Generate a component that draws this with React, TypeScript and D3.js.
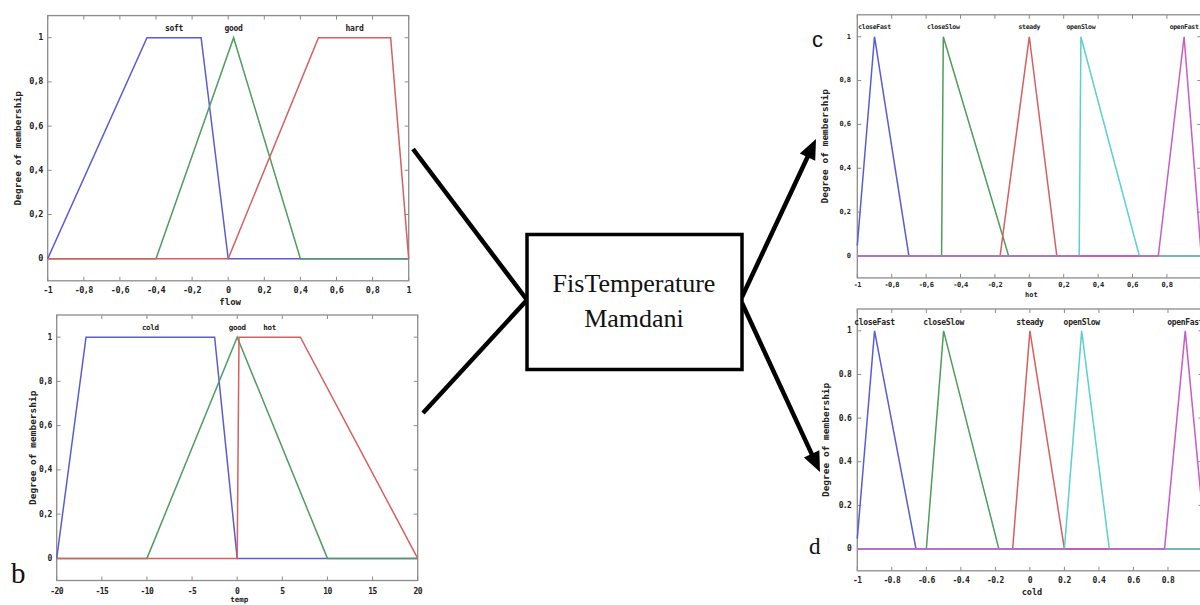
import React from "react";
import * as d3 from "d3";

// ---------- data ----------
const unitYTicks = [0, 0.2, 0.4, 0.6, 0.8, 1];

const flowNames = ["soft", "good", "hard"];
const flowParams = [
  [-1, -0.45, -0.15, 0],
  [-0.4, 0.03, 0.4],
  [0, 0.5, 0.9, 1],
];
const flowXTicks = [-1, -0.8, -0.6, -0.4, -0.2, 0, 0.2, 0.4, 0.6, 0.8, 1];

const tempNames = ["cold", "good", "hot"];
const tempParams = [
  [-20, -16.75, -2.5, 0],
  [-10, 0, 10],
  [0, 0.2, 7, 20],
];
const tempXTicks = [-20, -15, -10, -5, 0, 5, 10, 15, 20];

const valveNames = ["closeFast", "closeSlow", "steady", "openSlow", "openFast"];
const hotParams = [
  [-1.005, -0.9, -0.7],
  [-0.51, -0.5, -0.12],
  [-0.17, 0, 0.16],
  [0.29, 0.3, 0.64],
  [0.75, 0.9, 1.0],
];
const coldParams = [
  [-1.005, -0.9, -0.66],
  [-0.6, -0.5, -0.18],
  [-0.1, 0, 0.2],
  [0.2, 0.3, 0.46],
  [0.78, 0.9, 1.02],
];
const valveXTicks = [-1, -0.8, -0.6, -0.4, -0.2, 0, 0.2, 0.4, 0.6, 0.8, 1];

const COLORS = ["#5b5bd6", "#4f9c5f", "#d85f5f", "#5ccfcf", "#c85cc8"];
const FRAME = "#8c8c8c";
const MONO = "'DejaVu Sans Mono', monospace";

// ---------- helpers ----------
function mu(p: number[], x: number): number {
  if (p.length === 3) {
    const [a, b, c] = p;
    if (x === b) return 1;
    if (x <= a || x >= c) return 0;
    return x < b ? (x - a) / (b - a) : (c - x) / (c - b);
  }
  const [a, b, c, d] = p;
  if (x >= b && x <= c) return 1;
  if (x <= a || x >= d) return 0;
  return x < b ? (x - a) / (b - a) : (d - x) / (d - c);
}

function mfPoints(p: number[], lo: number, hi: number): [number, number][] {
  const xs = Array.from(new Set([lo, hi, ...p.filter((v) => v > lo && v < hi)])).sort((a, b) => a - b);
  return xs.map((v) => [v, mu(p, v)]);
}

function peakX(p: number[]) {
  return p.length === 3 ? p[1] : (p[1] + p[2]) / 2;
}

type Cfg = {
  left: number; right: number; top: number; bottom: number;
  xDomain: [number, number]; xTicks: number[]; sep: string;
  names: string[]; params: number[][];
  xLabel: string;
  tickFont: number; mfFont: number; labelFont: number; xLabelFont: number;
  yTickDx: number; xTickDy: number; xLabelDy: number; yLabelX: number; mfDy: number;
};

function Panel({ cfg }: { cfg: Cfg }) {
  const x = d3.scaleLinear().domain(cfg.xDomain).range([cfg.left, cfg.right]);
  const y = d3.scaleLinear().domain([-0.1, 1.1]).range([cfg.bottom, cfg.top]);
  const line = d3.line<[number, number]>().x((d) => x(d[0])).y((d) => y(d[1]));
  const fmt = (v: number) => {
    const s = d3.format("~g")(v);
    return s.replace("−", "-").replace(".", cfg.sep);
  };
  const tl = 4;
  const midY = (cfg.top + cfg.bottom) / 2;
  return (
    <g>
      <rect x={cfg.left} y={cfg.top} width={cfg.right - cfg.left} height={cfg.bottom - cfg.top}
        fill="white" stroke={FRAME} strokeWidth={1.3} />
      {cfg.xTicks.map((t) => (
        <g key={"xt" + t}>
          <line x1={x(t)} x2={x(t)} y1={cfg.bottom} y2={cfg.bottom - tl} stroke={FRAME} />
          <line x1={x(t)} x2={x(t)} y1={cfg.top} y2={cfg.top + tl} stroke={FRAME} />
          <text x={x(t)} y={cfg.bottom + cfg.xTickDy} fontFamily={MONO} fontSize={cfg.tickFont}
            fontWeight="bold" textAnchor="middle" dominantBaseline="middle" fill="#222" letterSpacing={-0.6}>
            {fmt(t)}
          </text>
        </g>
      ))}
      {unitYTicks.map((t) => (
        <g key={"yt" + t}>
          <line x1={cfg.left} x2={cfg.left + tl} y1={y(t)} y2={y(t)} stroke={FRAME} />
          <line x1={cfg.right} x2={cfg.right - tl} y1={y(t)} y2={y(t)} stroke={FRAME} />
          <text x={cfg.left + cfg.yTickDx} y={y(t)} fontFamily={MONO} fontSize={cfg.tickFont}
            fontWeight="bold" textAnchor="end" dominantBaseline="middle" fill="#222" letterSpacing={-0.6}>
            {fmt(t)}
          </text>
        </g>
      ))}
      {cfg.params.map((p, i) => (
        <path key={"mf" + i} d={line(mfPoints(p, cfg.xDomain[0], cfg.xDomain[1])) || ""}
          fill="none" stroke={COLORS[i]} strokeWidth={1.5} />
      ))}
      {cfg.params.map((p, i) => (
        <text key={"mn" + i} x={x(peakX(p))} y={y(1) + cfg.mfDy} fontFamily={MONO} fontSize={cfg.mfFont}
          fontWeight="bold" textAnchor="middle" dominantBaseline="middle" fill="#222" letterSpacing={-0.3}>
          {cfg.names[i]}
        </text>
      ))}
      <text x={x((cfg.xDomain[0] + cfg.xDomain[1]) / 2) + 2} y={cfg.bottom + cfg.xLabelDy} fontFamily={MONO}
        fontSize={cfg.xLabelFont} fontWeight="bold" textAnchor="middle" dominantBaseline="middle" fill="#222">
        {cfg.xLabel}
      </text>
      <text transform={`translate(${cfg.yLabelX},${midY}) rotate(-90)`} fontFamily={MONO}
        fontSize={cfg.labelFont} fontWeight="bold" textAnchor="middle" dominantBaseline="middle" fill="#222">
        Degree of membership
      </text>
    </g>
  );
}

const panels: Cfg[] = [
  {
    left: 47.7, right: 408.7, top: 15.6, bottom: 280.8, xDomain: [-1, 1], xTicks: flowXTicks, sep: ",",
    names: flowNames, params: flowParams, xLabel: "flow", tickFont: 8.5, mfFont: 8, labelFont: 9.5, xLabelFont: 9,
    yTickDx: -5, xTickDy: 9.5, xLabelDy: 21.5, yLabelX: 18, mfDy: -9.5,
  },
  {
    left: 56.7, right: 417.7, top: 315, bottom: 580.5, xDomain: [-20, 20], xTicks: tempXTicks, sep: ",",
    names: tempNames, params: tempParams, xLabel: "temp", tickFont: 8, mfFont: 7.5, labelFont: 9.5, xLabelFont: 7.5,
    yTickDx: -5, xTickDy: 10.5, xLabelDy: 19.5, yLabelX: 33, mfDy: -9.5,
  },
  {
    left: 857.3, right: 1201.3, top: 14.8, bottom: 277.9, xDomain: [-1, 1], xTicks: valveXTicks, sep: ",",
    names: valveNames, params: hotParams, xLabel: "hot", tickFont: 7, mfFont: 6.5, labelFont: 9.5, xLabelFont: 7,
    yTickDx: -7, xTickDy: 7.5, xLabelDy: 17, yLabelX: 825, mfDy: -10,
  },
  {
    left: 857.3, right: 1202.5, top: 309, bottom: 570.8, xDomain: [-1, 1], xTicks: valveXTicks, sep: ".",
    names: valveNames, params: coldParams, xLabel: "cold", tickFont: 8, mfFont: 8, labelFont: 9.5, xLabelFont: 8.5,
    yTickDx: -6, xTickDy: 10, xLabelDy: 22, yLabelX: 826.7, mfDy: -8,
  },
];

function Arrow({ x1, y1, x2, y2, head }: { x1: number; y1: number; x2: number; y2: number; head: boolean }) {
  const dx = x2 - x1, dy = y2 - y1;
  const len = Math.hypot(dx, dy);
  const ux = dx / len, uy = dy / len;
  const hl = 20, hw = 8.5;
  const ex = head ? x2 - ux * (hl - 2) : x2;
  const ey = head ? y2 - uy * (hl - 2) : y2;
  const bx = x2 - ux * hl, by = y2 - uy * hl;
  const pts = [
    [x2, y2],
    [bx - uy * hw, by + ux * hw],
    [bx + uy * hw, by - ux * hw],
  ];
  return (
    <g>
      <line x1={x1} y1={y1} x2={ex} y2={ey} stroke="black" strokeWidth={4.5} />
      {head && <polygon points={pts.map((p) => p.join(",")).join(" ")} fill="black" />}
    </g>
  );
}

export default function App() {
  return (
    <svg width={1200} height={605} style={{ position: "absolute", left: 0, top: 0, background: "white" }}>
      <rect width={1200} height={605} fill="white" />
      {panels.map((p, i) => (
        <Panel key={i} cfg={p} />
      ))}
      <Arrow x1={413} y1={149} x2={527} y2={300} head={false} />
      <Arrow x1={423} y1={413} x2={527} y2={300} head={false} />
      <Arrow x1={742} y1={297} x2={816} y2={139} head={true} />
      <Arrow x1={742} y1={303} x2={820} y2={472} head={true} />
      <rect x={527} y={234.5} width={215} height={135} fill="white" stroke="black" strokeWidth={3.5} />
      <text x={634} y={292} fontFamily="'Liberation Serif', serif" fontSize={26} textAnchor="middle" fill="#111">
        FisTemperature
      </text>
      <text x={634} y={327} fontFamily="'Liberation Serif', serif" fontSize={26} textAnchor="middle" fill="#111">
        Mamdani
      </text>
      <text x={11} y={583} fontFamily="'Liberation Serif', serif" fontSize={29} fill="#111">b</text>
      <text x={812} y={47} fontFamily="'Liberation Sans', sans-serif" fontSize={22} fill="#111">c</text>
      <text x={809} y={554} fontFamily="'Liberation Serif', serif" fontSize={23} fill="#111">d</text>
    </svg>
  );
}
